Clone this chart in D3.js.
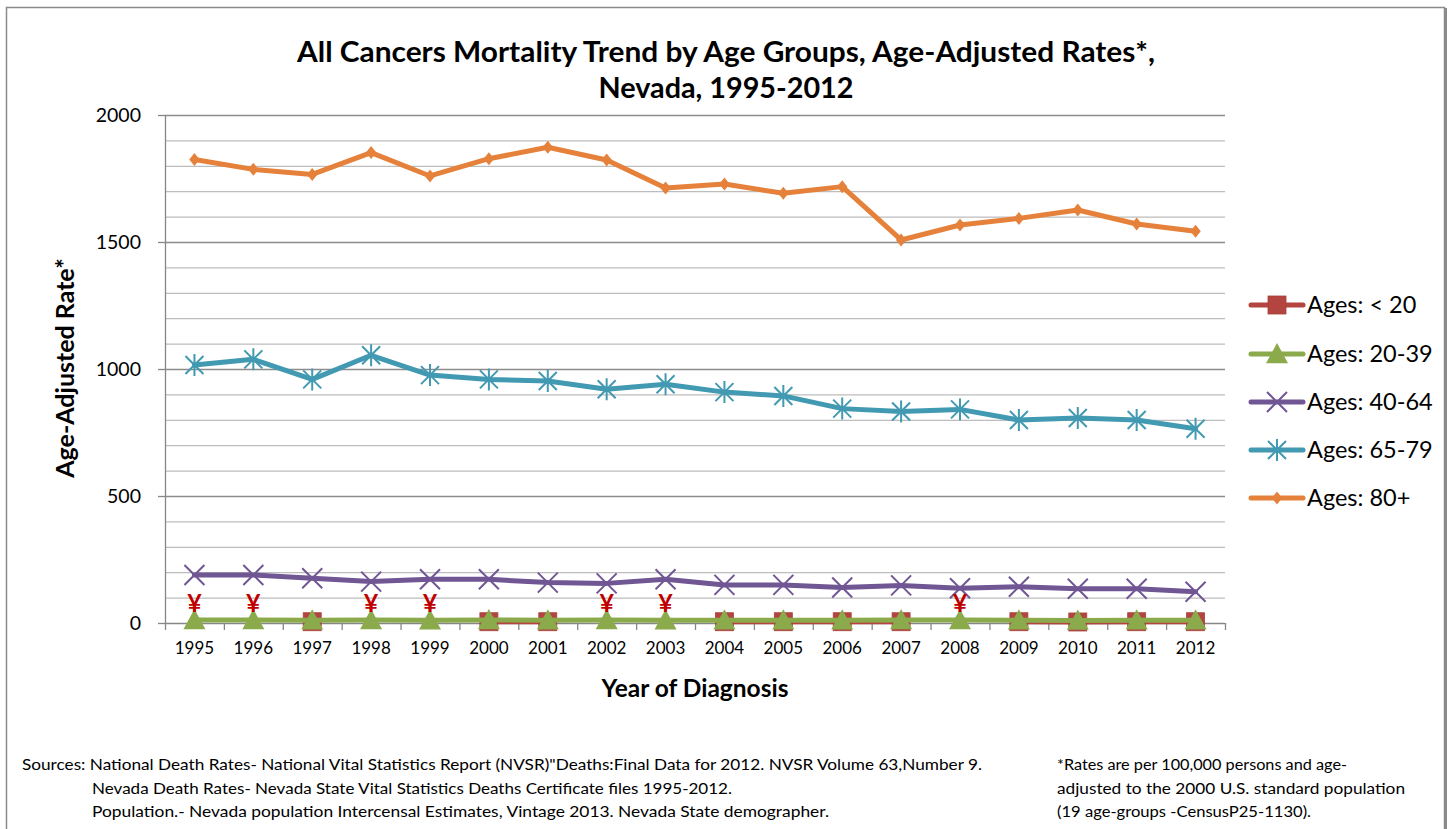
<!DOCTYPE html>
<html>
<head>
<meta charset="utf-8">
<script src="https://cdn.jsdelivr.net/npm/d3@7"></script>
<style>
  html, body { margin: 0; padding: 0; background: #fff; }
  svg { display: block; }
  text { font-family: Lato, "Open Sans", sans-serif; fill: #000; }
</style>
</head>
<body>
<svg id="chart" width="1449" height="829"></svg>
<script>
const years = ["1995","1996","1997","1998","1999","2000","2001","2002","2003","2004","2005","2006","2007","2008","2009","2010","2011","2012"];
const seriesNames = ["Ages: < 20","Ages: 20-39","Ages: 40-64","Ages: 65-79","Ages: 80+"];
const under20 = [null,null,5,null,null,5,5,null,null,5,5,5,5,null,5,4,5,5];
const ages20to39 = [12,12,11,12,11,12,11,12,11,11,11,11,12,12,11,10,11,11];
const ages40to64 = [189,189,176,163,172,172,159,156,172,150,150,140,148,137,143,135,135,123];
const ages65to79 = [1016,1038,959,1054,976,959,953,920,940,909,894,844,833,841,799,807,799,765];
const ages80plus = [1825,1786,1766,1852,1760,1828,1873,1823,1713,1728,1692,1718,1508,1567,1593,1626,1571,1542];
const suppressedMark = ["¥","¥","","¥","¥","","","¥","¥","","","","","¥","","","",""];
const yTicks = [0,500,1000,1500,2000];
const titleLines = ["All Cancers Mortality Trend by Age Groups, Age-Adjusted Rates*,","Nevada, 1995-2012"];
const yTitle = "Age-Adjusted Rate*";
const xTitle = "Year of Diagnosis";
const sourceLines = [
  "Sources: National Death Rates- National Vital Statistics Report (NVSR)\"Deaths:Final Data for 2012. NVSR Volume 63,Number 9.",
  "Nevada Death Rates- Nevada State Vital Statistics Deaths Certificate files 1995-2012.",
  "Population.- Nevada population Intercensal Estimates, Vintage 2013. Nevada State demographer."
];
const noteLines = [
  "*Rates are per 100,000 persons  and age-",
  "adjusted to the 2000 U.S. standard population",
  "(19 age-groups -CensusP25-1130)."
];

const seriesData = [under20, ages20to39, ages40to64, ages65to79, ages80plus];
const colors = ["#B4443F","#8BAA4B","#715694","#4299B2","#E5813A"];
const markers = ["square","triangle","x","star","diamond"];

const svg = d3.select("#chart");

// outer border
svg.append("rect").attr("x",6.5).attr("y",7.5).attr("width",1438).attr("height",840)
  .attr("fill","none").attr("stroke","#8a8a8a").attr("stroke-width",1.5);
svg.append("line").attr("x1",1446).attr("x2",1446).attr("y1",8).attr("y2",829)
  .attr("stroke","#8a8a8a").attr("stroke-width",2);

const L = 165, R = 1225, T = 115, B = 623;
const x = d3.scaleBand().domain(years).range([L,R]);
const y = d3.scaleLinear().domain([0,2000]).range([B,T]);
const cx = d => x(d) + x.bandwidth()/2;

// gridlines
const grid = d3.range(100, 2001, 100);
svg.append("g").selectAll("line").data(grid).join("line")
  .attr("x1",L).attr("x2",R)
  .attr("y1",d=>y(d)+0.5).attr("y2",d=>y(d)+0.5)
  .attr("stroke",d => d%500===0 ? "#8c8c8c" : "#bdbdbd")
  .attr("stroke-width",1.3);

// y axis
const yAxis = svg.append("g").attr("transform",`translate(${L},0)`)
  .call(d3.axisLeft(y).tickValues(yTicks).tickSize(7).tickPadding(17).tickFormat(d3.format("d")));
yAxis.select(".domain").attr("stroke","#868686").attr("stroke-width",1.3).attr("d",`M0.5,${T}V${B}`);
yAxis.selectAll(".tick line").attr("stroke","#868686").attr("stroke-width",1.3);
yAxis.selectAll(".tick text").attr("font-size",19.5).attr("font-family","Lato").attr("fill","#000");

// x axis
const xAxis = svg.append("g").attr("transform",`translate(0,${B})`)
  .call(d3.axisBottom(x).tickSize(0).tickPadding(19));
xAxis.select(".domain").attr("stroke","#868686").attr("stroke-width",1.3).attr("d",`M${L},0.5H${R}`);
xAxis.selectAll(".tick text").attr("font-size",17).attr("font-family","Lato").attr("fill","#000");
const bounds = years.map(d => x(d)).concat([R]);
svg.append("g").selectAll("line").data(bounds).join("line")
  .attr("x1",d=>d+0.5).attr("x2",d=>d+0.5).attr("y1",B).attr("y2",B+7)
  .attr("stroke","#868686").attr("stroke-width",1.3);

// marker drawing
function drawMarker(g, type, color, px, py) {
  if (type === "square") {
    g.append("rect").attr("x",px-9).attr("y",py-9).attr("width",18).attr("height",18)
      .attr("fill",color).attr("stroke","#A8403C").attr("stroke-width",0.8);
  } else if (type === "triangle") {
    const s = 11;
    g.append("path").attr("d",`M${px},${py-s}L${px+s},${py+s*0.85}L${px-s},${py+s*0.85}Z`).attr("fill",color);
  } else if (type === "x") {
    const s = 10;
    g.append("path").attr("d",`M${px-s},${py-s}L${px+s},${py+s}M${px-s},${py+s}L${px+s},${py-s}`)
      .attr("stroke",color).attr("stroke-width",2).attr("fill","none");
  } else if (type === "star") {
    const s = 9;
    g.append("path").attr("d",`M${px-s},${py-s}L${px+s},${py+s}M${px-s},${py+s}L${px+s},${py-s}M${px},${py-s-2}L${px},${py+s+2}`)
      .attr("stroke",color).attr("stroke-width",2).attr("fill","none");
  } else if (type === "diamond") {
    const s = 6.5;
    g.append("path").attr("d",`M${px},${py-s}L${px+s*0.8},${py}L${px},${py+s}L${px-s*0.8},${py}Z`).attr("fill",color);
  }
}

// series
const line = d3.line().defined(d => d.v !== null).x(d => cx(d.year)).y(d => y(d.v));
seriesData.forEach((vals, i) => {
  const pts = years.map((yr, j) => ({year: yr, v: vals[j]}));
  const g = svg.append("g");
  g.append("path").datum(pts).attr("d", line).attr("fill","none")
    .attr("stroke",colors[i]).attr("stroke-width",5).attr("stroke-linejoin","round").attr("stroke-linecap","round");
  pts.filter(d => d.v !== null).forEach(d => drawMarker(g, markers[i], colors[i], cx(d.year), y(d.v)));
});

// suppressed marks
svg.append("g").selectAll("text").data(years.map((yr,j)=>({yr, m: suppressedMark[j]})).filter(d=>d.m))
  .join("text").attr("x",d=>cx(d.yr)).attr("y",y(0)-11).attr("text-anchor","middle")
  .attr("font-size",25).attr("font-weight","bold").attr("font-family","DejaVu Sans").style("fill","#C00000")
  .text(d=>d.m);

// legend
const legY = [305, 354, 402, 450, 498];
seriesNames.forEach((name, i) => {
  const g = svg.append("g");
  g.append("line").attr("x1",1251).attr("x2",1303).attr("y1",legY[i]).attr("y2",legY[i])
    .attr("stroke",colors[i]).attr("stroke-width",5).attr("stroke-linecap","round");
  drawMarker(g, markers[i], colors[i], 1277, legY[i]);
  g.append("text").attr("x",1307).attr("y",legY[i]+8).attr("font-size",23.5).text(name);
});

// titles
const titleW = [858, 255];
svg.append("g").selectAll("text").data(titleLines).join("text")
  .attr("x",(d,i)=>726 - titleW[i]/2).attr("y",(d,i)=>62+i*36)
  .attr("font-size",29).attr("font-weight","bold")
  .attr("textLength",(d,i)=>titleW[i]).attr("lengthAdjust","spacingAndGlyphs").text(d=>d);
svg.append("text").attr("transform","translate(74,368) rotate(-90)").attr("text-anchor","middle")
  .attr("font-size",25).attr("font-weight","bold").text(yTitle);
svg.append("text").attr("x",695).attr("y",697).attr("text-anchor","middle")
  .attr("font-size",24.5).attr("font-weight","bold").text(xTitle);

// footnotes
const srcX = [22, 92, 92], srcW = [960, 640, 737];
sourceLines.forEach((t,i) => {
  svg.append("text").attr("x",srcX[i]).attr("y",770+i*23.5).attr("font-size",15)
    .attr("textLength",srcW[i]).attr("lengthAdjust","spacingAndGlyphs").text(t);
});
const noteW = [290, 348, 254];
noteLines.forEach((t,i) => {
  svg.append("text").attr("x",1057).attr("y",770+i*23.5).attr("font-size",15.5)
    .attr("textLength",noteW[i]).attr("lengthAdjust","spacingAndGlyphs").text(t);
});
</script>
</body>
</html>
